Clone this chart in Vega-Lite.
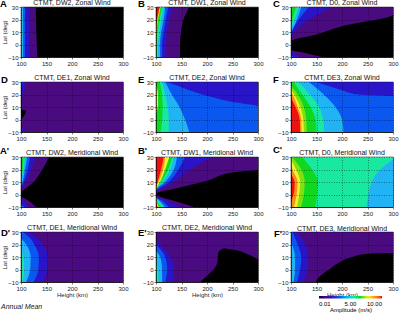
{"$schema":"https://vega.github.io/schema/vega-lite/v6.json","padding":{"left":-1,"top":-2,"right":0,"bottom":0},"autosize":{"type":"pad"},"background":"white","bounds":"flush","columns":3,"spacing":{"column":33,"row":25},
"config":{"font":"Liberation Sans","view":{"fill":"#000","stroke":"#000","strokeWidth":0.7},"title":{"fontSize":7,"fontWeight":"normal","color":"#111"},"axis":{"grid":true,"gridColor":"#000","gridDash":[1,1.5],"gridOpacity":0.7,"gridWidth":0.6,"labelFontSize":6,"labelColor":"#222","labelPadding":1,"tickSize":2,"tickWidth":0.5,"tickColor":"#000","domainColor":"#000","domainWidth":0.6,"titleFontSize":6,"titleFontWeight":"normal","titleColor":"#222","titlePadding":0,"labelOverlap":false,"labelFlush":false},"text":{"font":"Liberation Sans"},"area":{"opacity":1}},
"data":{"values":[
{"panel":"A","band":1,"amp":1,"lat":-10,"h0":100,"h1":132},{"panel":"A","band":1,"amp":1,"lat":10,"h0":100,"h1":130},{"panel":"A","band":1,"amp":1,"lat":30,"h0":100,"h1":129},
{"panel":"A","band":2,"amp":2.2,"lat":-10,"h0":100,"h1":117},{"panel":"A","band":2,"amp":2.2,"lat":30,"h0":100,"h1":115},
{"panel":"A","band":3,"amp":3.3,"lat":-10,"h0":100,"h1":108},{"panel":"A","band":3,"amp":3.3,"lat":30,"h0":100,"h1":108},
{"panel":"A","band":4,"amp":4.4,"lat":-10,"h0":100,"h1":104},{"panel":"A","band":4,"amp":4.4,"lat":30,"h0":100,"h1":104},
{"panel":"A","band":5,"amp":5.5,"lat":-10,"h0":100,"h1":102},{"panel":"A","band":5,"amp":5.5,"lat":30,"h0":100,"h1":102},

{"panel":"B","band":1,"amp":1,"lat":-10,"h0":100,"h1":147},{"panel":"B","band":1,"amp":1,"lat":0,"h0":100,"h1":147},{"panel":"B","band":1,"amp":1,"lat":10,"h0":100,"h1":149},{"panel":"B","band":1,"amp":1,"lat":20,"h0":100,"h1":154},{"panel":"B","band":1,"amp":1,"lat":30,"h0":100,"h1":165},
{"panel":"B","band":2,"amp":2.2,"lat":-10,"h0":100,"h1":120},{"panel":"B","band":2,"amp":2.2,"lat":0,"h0":100,"h1":120},{"panel":"B","band":2,"amp":2.2,"lat":10,"h0":100,"h1":122},{"panel":"B","band":2,"amp":2.2,"lat":20,"h0":100,"h1":126},{"panel":"B","band":2,"amp":2.2,"lat":30,"h0":100,"h1":133},
{"panel":"B","band":3,"amp":3.3,"lat":-10,"h0":100,"h1":112},{"panel":"B","band":3,"amp":3.3,"lat":0,"h0":100,"h1":112},{"panel":"B","band":3,"amp":3.3,"lat":10,"h0":100,"h1":115},{"panel":"B","band":3,"amp":3.3,"lat":30,"h0":100,"h1":124},
{"panel":"B","band":4,"amp":4.4,"lat":-10,"h0":100,"h1":108},{"panel":"B","band":4,"amp":4.4,"lat":0,"h0":100,"h1":108},{"panel":"B","band":4,"amp":4.4,"lat":10,"h0":100,"h1":110},{"panel":"B","band":4,"amp":4.4,"lat":20,"h0":100,"h1":115},{"panel":"B","band":4,"amp":4.4,"lat":30,"h0":100,"h1":118},
{"panel":"B","band":5,"amp":5.5,"lat":-10,"h0":100,"h1":104},{"panel":"B","band":5,"amp":5.5,"lat":0,"h0":100,"h1":104},{"panel":"B","band":5,"amp":5.5,"lat":10,"h0":100,"h1":107},{"panel":"B","band":5,"amp":5.5,"lat":20,"h0":100,"h1":110},{"panel":"B","band":5,"amp":5.5,"lat":30,"h0":100,"h1":115},
{"panel":"B","band":6,"amp":6.6,"lat":-10,"h0":100,"h1":101},{"panel":"B","band":6,"amp":6.6,"lat":0,"h0":100,"h1":101},{"panel":"B","band":6,"amp":6.6,"lat":10,"h0":100,"h1":103},{"panel":"B","band":6,"amp":6.6,"lat":20,"h0":100,"h1":107},{"panel":"B","band":6,"amp":6.6,"lat":30,"h0":100,"h1":112},
{"panel":"B","band":7,"amp":7.8,"lat":0,"h0":100,"h1":100},{"panel":"B","band":7,"amp":7.8,"lat":10,"h0":100,"h1":101},{"panel":"B","band":7,"amp":7.8,"lat":20,"h0":100,"h1":104},{"panel":"B","band":7,"amp":7.8,"lat":30,"h0":100,"h1":109},
{"panel":"B","band":8,"amp":8.9,"lat":10,"h0":100,"h1":100},{"panel":"B","band":8,"amp":8.9,"lat":20,"h0":100,"h1":103},{"panel":"B","band":8,"amp":8.9,"lat":30,"h0":100,"h1":108},
{"panel":"B","band":9,"amp":10,"lat":15,"h0":100,"h1":100},{"panel":"B","band":9,"amp":10,"lat":20,"h0":100,"h1":102},{"panel":"B","band":9,"amp":10,"lat":30,"h0":100,"h1":107},

{"panel":"C","band":1,"amp":1,"lat":-10,"h0":100,"h1":162},{"panel":"C","band":1,"amp":1,"lat":-7,"h0":100,"h1":130},{"panel":"C","band":1,"amp":1,"lat":-4,"h0":100,"h1":100},{"panel":"C","band":1,"amp":1,"lat":2.5,"h0":100,"h1":100},{"panel":"C","band":1,"amp":1,"lat":8,"h0":100,"h1":150},{"panel":"C","band":1,"amp":1,"lat":14.5,"h0":100,"h1":198},{"panel":"C","band":1,"amp":1,"lat":24,"h0":100,"h1":300},{"panel":"C","band":1,"amp":1,"lat":30,"h0":100,"h1":300},
{"panel":"C","band":2,"amp":2.2,"lat":-10,"h0":100,"h1":118},{"panel":"C","band":2,"amp":2.2,"lat":-7,"h0":100,"h1":105},{"panel":"C","band":2,"amp":2.2,"lat":-5,"h0":100,"h1":100},{"panel":"C","band":2,"amp":2.2,"lat":3,"h0":100,"h1":100},{"panel":"C","band":2,"amp":2.2,"lat":30,"h0":100,"h1":178},
{"panel":"C","band":3,"amp":3.3,"lat":-10,"h0":100,"h1":105},{"panel":"C","band":3,"amp":3.3,"lat":-8,"h0":100,"h1":100},{"panel":"C","band":3,"amp":3.3,"lat":5,"h0":100,"h1":100},{"panel":"C","band":3,"amp":3.3,"lat":30,"h0":100,"h1":135},
{"panel":"C","band":4,"amp":4.4,"lat":10,"h0":100,"h1":100},{"panel":"C","band":4,"amp":4.4,"lat":20,"h0":100,"h1":112},{"panel":"C","band":4,"amp":4.4,"lat":30,"h0":100,"h1":120},
{"panel":"C","band":5,"amp":5.5,"lat":12,"h0":100,"h1":100},{"panel":"C","band":5,"amp":5.5,"lat":20,"h0":100,"h1":107},{"panel":"C","band":5,"amp":5.5,"lat":30,"h0":100,"h1":115},
{"panel":"C","band":6,"amp":6.6,"lat":15,"h0":100,"h1":100},{"panel":"C","band":6,"amp":6.6,"lat":20,"h0":100,"h1":103},{"panel":"C","band":6,"amp":6.6,"lat":30,"h0":100,"h1":110},

{"panel":"D","band":1,"amp":1,"lat":-10,"h0":100,"h1":300},{"panel":"D","band":1,"amp":1,"lat":-2,"h0":100,"h1":300},{"panel":"D","band":1,"amp":1,"lat":7,"h0":110,"h1":300},{"panel":"D","band":1,"amp":1,"lat":8,"h0":100,"h1":300},{"panel":"D","band":1,"amp":1,"lat":30,"h0":100,"h1":300},
{"panel":"D","band":2,"amp":2.2,"lat":-10,"h0":100,"h1":112},{"panel":"D","band":2,"amp":2.2,"lat":-7,"h0":100,"h1":103},{"panel":"D","band":2,"amp":2.2,"lat":-6,"h0":100,"h1":100},{"panel":"D","band":2,"amp":2.2,"lat":14,"h0":100,"h1":100},{"panel":"D","band":2,"amp":2.2,"lat":20,"h0":100,"h1":104},{"panel":"D","band":2,"amp":2.2,"lat":25,"h0":100,"h1":107},{"panel":"D","band":2,"amp":2.2,"lat":30,"h0":100,"h1":110},
{"panel":"D","band":3,"amp":3.3,"lat":26,"h0":100,"h1":100},{"panel":"D","band":3,"amp":3.3,"lat":30,"h0":100,"h1":103},

{"panel":"E","band":1,"amp":2.2,"lat":-10,"h0":100,"h1":300},{"panel":"E","band":1,"amp":2.2,"lat":30,"h0":100,"h1":300},
{"panel":"E","band":2,"amp":3.3,"lat":-10,"h0":100,"h1":300},{"panel":"E","band":2,"amp":3.3,"lat":10.5,"h0":100,"h1":300},{"panel":"E","band":2,"amp":3.3,"lat":14,"h0":100,"h1":250},{"panel":"E","band":2,"amp":3.3,"lat":19,"h0":100,"h1":200},{"panel":"E","band":2,"amp":3.3,"lat":25,"h0":100,"h1":155},{"panel":"E","band":2,"amp":3.3,"lat":30,"h0":100,"h1":122},
{"panel":"E","band":3,"amp":4.4,"lat":-10,"h0":100,"h1":165},{"panel":"E","band":3,"amp":4.4,"lat":0,"h0":100,"h1":157},{"panel":"E","band":3,"amp":4.4,"lat":10,"h0":100,"h1":146},{"panel":"E","band":3,"amp":4.4,"lat":20,"h0":100,"h1":131},{"panel":"E","band":3,"amp":4.4,"lat":30,"h0":100,"h1":118},
{"panel":"E","band":4,"amp":5.5,"lat":-10,"h0":100,"h1":125},{"panel":"E","band":4,"amp":5.5,"lat":0,"h0":100,"h1":125},{"panel":"E","band":4,"amp":5.5,"lat":10,"h0":100,"h1":123},{"panel":"E","band":4,"amp":5.5,"lat":20,"h0":100,"h1":118},{"panel":"E","band":4,"amp":5.5,"lat":30,"h0":100,"h1":112},
{"panel":"E","band":5,"amp":6.6,"lat":-10,"h0":100,"h1":109},{"panel":"E","band":5,"amp":6.6,"lat":0,"h0":100,"h1":112},{"panel":"E","band":5,"amp":6.6,"lat":10,"h0":100,"h1":113},{"panel":"E","band":5,"amp":6.6,"lat":20,"h0":100,"h1":112},{"panel":"E","band":5,"amp":6.6,"lat":30,"h0":100,"h1":107},
{"panel":"E","band":6,"amp":7.8,"lat":5,"h0":100,"h1":100},{"panel":"E","band":6,"amp":7.8,"lat":12,"h0":100,"h1":104},{"panel":"E","band":6,"amp":7.8,"lat":20,"h0":100,"h1":104},{"panel":"E","band":6,"amp":7.8,"lat":28,"h0":100,"h1":100},

{"panel":"F","band":1,"amp":2.2,"lat":-10,"h0":100,"h1":300},{"panel":"F","band":1,"amp":2.2,"lat":30,"h0":100,"h1":300},
{"panel":"F","band":2,"amp":3.3,"lat":-10,"h0":100,"h1":300},{"panel":"F","band":2,"amp":3.3,"lat":18.5,"h0":100,"h1":300},{"panel":"F","band":2,"amp":3.3,"lat":20,"h0":100,"h1":232},{"panel":"F","band":2,"amp":3.3,"lat":23.5,"h0":100,"h1":200},{"panel":"F","band":2,"amp":3.3,"lat":27,"h0":100,"h1":172},{"panel":"F","band":2,"amp":3.3,"lat":30,"h0":100,"h1":150},
{"panel":"F","band":3,"amp":4.4,"lat":-10,"h0":100,"h1":203},{"panel":"F","band":3,"amp":4.4,"lat":0,"h0":100,"h1":200},{"panel":"F","band":3,"amp":4.4,"lat":10,"h0":100,"h1":187},{"panel":"F","band":3,"amp":4.4,"lat":20,"h0":100,"h1":164},{"panel":"F","band":3,"amp":4.4,"lat":30,"h0":100,"h1":135},
{"panel":"F","band":4,"amp":5.5,"lat":-10,"h0":100,"h1":165},{"panel":"F","band":4,"amp":5.5,"lat":0,"h0":100,"h1":163},{"panel":"F","band":4,"amp":5.5,"lat":10,"h0":100,"h1":155},{"panel":"F","band":4,"amp":5.5,"lat":20,"h0":100,"h1":137},{"panel":"F","band":4,"amp":5.5,"lat":30,"h0":100,"h1":115},
{"panel":"F","band":5,"amp":6.6,"lat":-10,"h0":100,"h1":150},{"panel":"F","band":5,"amp":6.6,"lat":0,"h0":100,"h1":148},{"panel":"F","band":5,"amp":6.6,"lat":10,"h0":100,"h1":138},{"panel":"F","band":5,"amp":6.6,"lat":20,"h0":100,"h1":122},{"panel":"F","band":5,"amp":6.6,"lat":30,"h0":100,"h1":105},
{"panel":"F","band":6,"amp":7.1,"lat":-10,"h0":100,"h1":131},{"panel":"F","band":6,"amp":7.1,"lat":0,"h0":100,"h1":130},{"panel":"F","band":6,"amp":7.1,"lat":10,"h0":100,"h1":125},{"panel":"F","band":6,"amp":7.1,"lat":20,"h0":100,"h1":113},{"panel":"F","band":6,"amp":7.1,"lat":27,"h0":100,"h1":100},
{"panel":"F","band":7,"amp":7.8,"lat":-10,"h0":100,"h1":125},{"panel":"F","band":7,"amp":7.8,"lat":0,"h0":100,"h1":124},{"panel":"F","band":7,"amp":7.8,"lat":10,"h0":100,"h1":118},{"panel":"F","band":7,"amp":7.8,"lat":20,"h0":100,"h1":106},{"panel":"F","band":7,"amp":7.8,"lat":24,"h0":100,"h1":100},
{"panel":"F","band":8,"amp":8.9,"lat":-10,"h0":100,"h1":121},{"panel":"F","band":8,"amp":8.9,"lat":0,"h0":100,"h1":120},{"panel":"F","band":8,"amp":8.9,"lat":10,"h0":100,"h1":113},{"panel":"F","band":8,"amp":8.9,"lat":20,"h0":100,"h1":103},{"panel":"F","band":8,"amp":8.9,"lat":22,"h0":100,"h1":100},
{"panel":"F","band":9,"amp":10,"lat":-10,"h0":100,"h1":118},{"panel":"F","band":9,"amp":10,"lat":0,"h0":100,"h1":117},{"panel":"F","band":9,"amp":10,"lat":10,"h0":100,"h1":109},{"panel":"F","band":9,"amp":10,"lat":15,"h0":100,"h1":103},{"panel":"F","band":9,"amp":10,"lat":18,"h0":100,"h1":100},

{"panel":"A2","band":1,"amp":1,"lat":-10,"h0":100,"h1":129},{"panel":"A2","band":1,"amp":1,"lat":-5,"h0":100,"h1":115},{"panel":"A2","band":1,"amp":1,"lat":-1,"h0":100,"h1":100},{"panel":"A2","band":1,"amp":1,"lat":0.5,"h0":100,"h1":100},{"panel":"A2","band":1,"amp":1,"lat":10,"h0":100,"h1":125},{"panel":"A2","band":1,"amp":1,"lat":20,"h0":100,"h1":142},{"panel":"A2","band":1,"amp":1,"lat":30,"h0":100,"h1":155},
{"panel":"A2","band":2,"amp":2.2,"lat":-10,"h0":100,"h1":113},{"panel":"A2","band":2,"amp":2.2,"lat":-5,"h0":100,"h1":106},{"panel":"A2","band":2,"amp":2.2,"lat":-2,"h0":100,"h1":100},{"panel":"A2","band":2,"amp":2.2,"lat":3,"h0":100,"h1":100},{"panel":"A2","band":2,"amp":2.2,"lat":10,"h0":100,"h1":110},{"panel":"A2","band":2,"amp":2.2,"lat":20,"h0":100,"h1":120},{"panel":"A2","band":2,"amp":2.2,"lat":30,"h0":100,"h1":128},
{"panel":"A2","band":3,"amp":3.3,"lat":-10,"h0":100,"h1":106},{"panel":"A2","band":3,"amp":3.3,"lat":-6,"h0":100,"h1":100},{"panel":"A2","band":3,"amp":3.3,"lat":5,"h0":100,"h1":100},{"panel":"A2","band":3,"amp":3.3,"lat":10,"h0":100,"h1":105},{"panel":"A2","band":3,"amp":3.3,"lat":20,"h0":100,"h1":113},{"panel":"A2","band":3,"amp":3.3,"lat":30,"h0":100,"h1":118},
{"panel":"A2","band":4,"amp":4.4,"lat":-10,"h0":100,"h1":103},{"panel":"A2","band":4,"amp":4.4,"lat":-8,"h0":100,"h1":100},{"panel":"A2","band":4,"amp":4.4,"lat":6,"h0":100,"h1":100},{"panel":"A2","band":4,"amp":4.4,"lat":10,"h0":100,"h1":103},{"panel":"A2","band":4,"amp":4.4,"lat":20,"h0":100,"h1":108},{"panel":"A2","band":4,"amp":4.4,"lat":30,"h0":100,"h1":112},
{"panel":"A2","band":5,"amp":5.5,"lat":-10,"h0":100,"h1":101},{"panel":"A2","band":5,"amp":5.5,"lat":-9,"h0":100,"h1":100},{"panel":"A2","band":5,"amp":5.5,"lat":10,"h0":100,"h1":100},{"panel":"A2","band":5,"amp":5.5,"lat":20,"h0":100,"h1":105},{"panel":"A2","band":5,"amp":5.5,"lat":30,"h0":100,"h1":108},
{"panel":"A2","band":6,"amp":6.6,"lat":10,"h0":100,"h1":100},{"panel":"A2","band":6,"amp":6.6,"lat":20,"h0":100,"h1":103},{"panel":"A2","band":6,"amp":6.6,"lat":30,"h0":100,"h1":105},

{"panel":"B2","band":1,"amp":1,"lat":-10,"h0":100,"h1":175},{"panel":"B2","band":1,"amp":1,"lat":-5,"h0":100,"h1":135},{"panel":"B2","band":1,"amp":1,"lat":0,"h0":100,"h1":100},{"panel":"B2","band":1,"amp":1,"lat":0.5,"h0":100,"h1":100},{"panel":"B2","band":1,"amp":1,"lat":5,"h0":100,"h1":140},{"panel":"B2","band":1,"amp":1,"lat":11,"h0":100,"h1":200},{"panel":"B2","band":1,"amp":1,"lat":17.7,"h0":100,"h1":250},{"panel":"B2","band":1,"amp":1,"lat":20,"h0":100,"h1":300},{"panel":"B2","band":1,"amp":1,"lat":30,"h0":100,"h1":300},
{"panel":"B2","band":2,"amp":2.2,"lat":-10,"h0":100,"h1":145},{"panel":"B2","band":2,"amp":2.2,"lat":-5,"h0":100,"h1":122},{"panel":"B2","band":2,"amp":2.2,"lat":-1,"h0":100,"h1":100},{"panel":"B2","band":2,"amp":2.2,"lat":1,"h0":100,"h1":100},{"panel":"B2","band":2,"amp":2.2,"lat":10,"h0":100,"h1":135},{"panel":"B2","band":2,"amp":2.2,"lat":20,"h0":100,"h1":167},{"panel":"B2","band":2,"amp":2.2,"lat":30,"h0":100,"h1":210},
{"panel":"B2","band":3,"amp":3.3,"lat":-10,"h0":100,"h1":125},{"panel":"B2","band":3,"amp":3.3,"lat":-5,"h0":100,"h1":112},{"panel":"B2","band":3,"amp":3.3,"lat":-1.5,"h0":100,"h1":100},{"panel":"B2","band":3,"amp":3.3,"lat":2,"h0":100,"h1":100},{"panel":"B2","band":3,"amp":3.3,"lat":10,"h0":100,"h1":125},{"panel":"B2","band":3,"amp":3.3,"lat":20,"h0":100,"h1":144},{"panel":"B2","band":3,"amp":3.3,"lat":30,"h0":100,"h1":157},
{"panel":"B2","band":4,"amp":4.4,"lat":-10,"h0":100,"h1":118},{"panel":"B2","band":4,"amp":4.4,"lat":-5,"h0":100,"h1":107},{"panel":"B2","band":4,"amp":4.4,"lat":-2,"h0":100,"h1":100},{"panel":"B2","band":4,"amp":4.4,"lat":3,"h0":100,"h1":100},{"panel":"B2","band":4,"amp":4.4,"lat":10,"h0":100,"h1":118},{"panel":"B2","band":4,"amp":4.4,"lat":20,"h0":100,"h1":135},{"panel":"B2","band":4,"amp":4.4,"lat":30,"h0":100,"h1":141},
{"panel":"B2","band":5,"amp":5.5,"lat":-10,"h0":100,"h1":113},{"panel":"B2","band":5,"amp":5.5,"lat":-5,"h0":100,"h1":105},{"panel":"B2","band":5,"amp":5.5,"lat":-2.5,"h0":100,"h1":100},{"panel":"B2","band":5,"amp":5.5,"lat":3.5,"h0":100,"h1":100},{"panel":"B2","band":5,"amp":5.5,"lat":10,"h0":100,"h1":113},{"panel":"B2","band":5,"amp":5.5,"lat":20,"h0":100,"h1":128},{"panel":"B2","band":5,"amp":5.5,"lat":30,"h0":100,"h1":135},
{"panel":"B2","band":6,"amp":6.6,"lat":-10,"h0":100,"h1":110},{"panel":"B2","band":6,"amp":6.6,"lat":-3,"h0":100,"h1":100},{"panel":"B2","band":6,"amp":6.6,"lat":4,"h0":100,"h1":100},{"panel":"B2","band":6,"amp":6.6,"lat":10,"h0":100,"h1":110},{"panel":"B2","band":6,"amp":6.6,"lat":20,"h0":100,"h1":124},{"panel":"B2","band":6,"amp":6.6,"lat":30,"h0":100,"h1":132},
{"panel":"B2","band":7,"amp":7.8,"lat":-10,"h0":100,"h1":106},{"panel":"B2","band":7,"amp":7.8,"lat":-4,"h0":100,"h1":100},{"panel":"B2","band":7,"amp":7.8,"lat":4,"h0":100,"h1":100},{"panel":"B2","band":7,"amp":7.8,"lat":10,"h0":100,"h1":108},{"panel":"B2","band":7,"amp":7.8,"lat":20,"h0":100,"h1":118},{"panel":"B2","band":7,"amp":7.8,"lat":30,"h0":100,"h1":126},
{"panel":"B2","band":8,"amp":8.9,"lat":-10,"h0":100,"h1":104},{"panel":"B2","band":8,"amp":8.9,"lat":-5,"h0":100,"h1":100},{"panel":"B2","band":8,"amp":8.9,"lat":5,"h0":100,"h1":100},{"panel":"B2","band":8,"amp":8.9,"lat":10,"h0":100,"h1":105},{"panel":"B2","band":8,"amp":8.9,"lat":20,"h0":100,"h1":114},{"panel":"B2","band":8,"amp":8.9,"lat":30,"h0":100,"h1":118},
{"panel":"B2","band":9,"amp":10,"lat":-10,"h0":100,"h1":103},{"panel":"B2","band":9,"amp":10,"lat":-6,"h0":100,"h1":100},{"panel":"B2","band":9,"amp":10,"lat":6,"h0":100,"h1":100},{"panel":"B2","band":9,"amp":10,"lat":10,"h0":100,"h1":103},{"panel":"B2","band":9,"amp":10,"lat":20,"h0":100,"h1":110},{"panel":"B2","band":9,"amp":10,"lat":30,"h0":100,"h1":115},

{"panel":"C2","band":1,"amp":5.5,"lat":-10,"h0":100,"h1":300},{"panel":"C2","band":1,"amp":5.5,"lat":30,"h0":100,"h1":300},
{"panel":"C2","band":2,"amp":4.4,"lat":-10,"h0":248,"h1":300},{"panel":"C2","band":2,"amp":4.4,"lat":0,"h0":252,"h1":300},{"panel":"C2","band":2,"amp":4.4,"lat":10,"h0":258,"h1":300},{"panel":"C2","band":2,"amp":4.4,"lat":20,"h0":275,"h1":300},{"panel":"C2","band":2,"amp":4.4,"lat":28,"h0":300,"h1":300},
{"panel":"C2","band":3,"amp":6.6,"lat":-10,"h0":100,"h1":148},{"panel":"C2","band":3,"amp":6.6,"lat":0,"h0":100,"h1":151},{"panel":"C2","band":3,"amp":6.6,"lat":10,"h0":100,"h1":153},{"panel":"C2","band":3,"amp":6.6,"lat":20,"h0":100,"h1":141},{"panel":"C2","band":3,"amp":6.6,"lat":30,"h0":100,"h1":122},
{"panel":"C2","band":4,"amp":7.1,"lat":-10,"h0":100,"h1":120},{"panel":"C2","band":4,"amp":7.1,"lat":0,"h0":100,"h1":125},{"panel":"C2","band":4,"amp":7.1,"lat":10,"h0":100,"h1":127},{"panel":"C2","band":4,"amp":7.1,"lat":20,"h0":100,"h1":120},{"panel":"C2","band":4,"amp":7.1,"lat":30,"h0":100,"h1":102},
{"panel":"C2","band":5,"amp":7.8,"lat":-10,"h0":100,"h1":112},{"panel":"C2","band":5,"amp":7.8,"lat":0,"h0":100,"h1":116},{"panel":"C2","band":5,"amp":7.8,"lat":10,"h0":100,"h1":118},{"panel":"C2","band":5,"amp":7.8,"lat":20,"h0":100,"h1":110},{"panel":"C2","band":5,"amp":7.8,"lat":28,"h0":100,"h1":100},
{"panel":"C2","band":6,"amp":8.9,"lat":-10,"h0":100,"h1":106},{"panel":"C2","band":6,"amp":8.9,"lat":0,"h0":100,"h1":111},{"panel":"C2","band":6,"amp":8.9,"lat":10,"h0":100,"h1":113},{"panel":"C2","band":6,"amp":8.9,"lat":18,"h0":100,"h1":105},{"panel":"C2","band":6,"amp":8.9,"lat":23,"h0":100,"h1":100},
{"panel":"C2","band":7,"amp":10,"lat":-7,"h0":100,"h1":100},{"panel":"C2","band":7,"amp":10,"lat":-5,"h0":100,"h1":101},{"panel":"C2","band":7,"amp":10,"lat":0,"h0":100,"h1":105},{"panel":"C2","band":7,"amp":10,"lat":5,"h0":100,"h1":107},{"panel":"C2","band":7,"amp":10,"lat":10,"h0":100,"h1":107},{"panel":"C2","band":7,"amp":10,"lat":15,"h0":100,"h1":102},{"panel":"C2","band":7,"amp":10,"lat":18,"h0":100,"h1":100},

{"panel":"D2","band":1,"amp":1,"lat":-10,"h0":100,"h1":300},{"panel":"D2","band":1,"amp":1,"lat":30,"h0":100,"h1":300},
{"panel":"D2","band":2,"amp":2.2,"lat":-10,"h0":100,"h1":143},{"panel":"D2","band":2,"amp":2.2,"lat":0,"h0":100,"h1":152},{"panel":"D2","band":2,"amp":2.2,"lat":10,"h0":100,"h1":153},{"panel":"D2","band":2,"amp":2.2,"lat":20,"h0":100,"h1":142},{"panel":"D2","band":2,"amp":2.2,"lat":25,"h0":100,"h1":132},{"panel":"D2","band":2,"amp":2.2,"lat":30,"h0":100,"h1":115},
{"panel":"D2","band":3,"amp":3.3,"lat":-10,"h0":100,"h1":125},{"panel":"D2","band":3,"amp":3.3,"lat":0,"h0":100,"h1":134},{"panel":"D2","band":3,"amp":3.3,"lat":10,"h0":100,"h1":135},{"panel":"D2","band":3,"amp":3.3,"lat":20,"h0":100,"h1":126},{"panel":"D2","band":3,"amp":3.3,"lat":25,"h0":100,"h1":118},{"panel":"D2","band":3,"amp":3.3,"lat":30,"h0":100,"h1":103},
{"panel":"D2","band":4,"amp":4.4,"lat":-10,"h0":100,"h1":110},{"panel":"D2","band":4,"amp":4.4,"lat":0,"h0":100,"h1":118},{"panel":"D2","band":4,"amp":4.4,"lat":10,"h0":100,"h1":119},{"panel":"D2","band":4,"amp":4.4,"lat":20,"h0":100,"h1":110},{"panel":"D2","band":4,"amp":4.4,"lat":25,"h0":100,"h1":100},
{"panel":"D2","band":5,"amp":5.5,"lat":-10,"h0":100,"h1":103},{"panel":"D2","band":5,"amp":5.5,"lat":0,"h0":100,"h1":106},{"panel":"D2","band":5,"amp":5.5,"lat":10,"h0":100,"h1":105},{"panel":"D2","band":5,"amp":5.5,"lat":15,"h0":100,"h1":100},
{"panel":"D2","band":6,"amp":6.6,"lat":-10,"h0":100,"h1":100},{"panel":"D2","band":6,"amp":6.6,"lat":0,"h0":100,"h1":101},{"panel":"D2","band":6,"amp":6.6,"lat":10,"h0":100,"h1":101},{"panel":"D2","band":6,"amp":6.6,"lat":14,"h0":100,"h1":100},

{"panel":"E2","band":1,"amp":1,"lat":-10,"h0":100,"h1":187},{"panel":"E2","band":1,"amp":1,"lat":-5,"h0":100,"h1":200},{"panel":"E2","band":1,"amp":1,"lat":0,"h0":100,"h1":213},{"panel":"E2","band":1,"amp":1,"lat":5,"h0":100,"h1":220},{"panel":"E2","band":1,"amp":1,"lat":8,"h0":100,"h1":221},{"panel":"E2","band":1,"amp":1,"lat":13,"h0":100,"h1":222},{"panel":"E2","band":1,"amp":1,"lat":15,"h0":100,"h1":225},{"panel":"E2","band":1,"amp":1,"lat":17,"h0":100,"h1":236},{"panel":"E2","band":1,"amp":1,"lat":17.2,"h0":100,"h1":300},{"panel":"E2","band":1,"amp":1,"lat":30,"h0":100,"h1":300},
{"panel":"E2","band":8,"amp":1,"lat":8,"h0":300,"h1":300},{"panel":"E2","band":8,"amp":1,"lat":13,"h0":275,"h1":300},{"panel":"E2","band":8,"amp":1,"lat":15,"h0":262,"h1":300},{"panel":"E2","band":8,"amp":1,"lat":17,"h0":236,"h1":300},{"panel":"E2","band":8,"amp":1,"lat":17.2,"h0":236,"h1":300},
{"panel":"E2","band":2,"amp":2.2,"lat":-10,"h0":100,"h1":133},{"panel":"E2","band":2,"amp":2.2,"lat":0,"h0":100,"h1":135},{"panel":"E2","band":2,"amp":2.2,"lat":10,"h0":100,"h1":128},{"panel":"E2","band":2,"amp":2.2,"lat":20,"h0":100,"h1":108},{"panel":"E2","band":2,"amp":2.2,"lat":25,"h0":100,"h1":100},
{"panel":"E2","band":3,"amp":3.3,"lat":-10,"h0":100,"h1":118},{"panel":"E2","band":3,"amp":3.3,"lat":0,"h0":100,"h1":122},{"panel":"E2","band":3,"amp":3.3,"lat":10,"h0":100,"h1":118},{"panel":"E2","band":3,"amp":3.3,"lat":20,"h0":100,"h1":100},
{"panel":"E2","band":4,"amp":4.4,"lat":-10,"h0":100,"h1":112},{"panel":"E2","band":4,"amp":4.4,"lat":0,"h0":100,"h1":112},{"panel":"E2","band":4,"amp":4.4,"lat":10,"h0":100,"h1":108},{"panel":"E2","band":4,"amp":4.4,"lat":15,"h0":100,"h1":100},
{"panel":"E2","band":5,"amp":5.5,"lat":-10,"h0":100,"h1":105},{"panel":"E2","band":5,"amp":5.5,"lat":0,"h0":100,"h1":104},{"panel":"E2","band":5,"amp":5.5,"lat":5,"h0":100,"h1":100},
{"panel":"E2","band":6,"amp":6.6,"lat":-10,"h0":100,"h1":102},{"panel":"E2","band":6,"amp":6.6,"lat":-5,"h0":100,"h1":100},

{"panel":"F2","band":1,"amp":1,"lat":-10,"h0":100,"h1":148},{"panel":"F2","band":1,"amp":1,"lat":-5,"h0":100,"h1":158},{"panel":"F2","band":1,"amp":1,"lat":0,"h0":100,"h1":175},{"panel":"F2","band":1,"amp":1,"lat":5,"h0":100,"h1":192},{"panel":"F2","band":1,"amp":1,"lat":10,"h0":100,"h1":220},{"panel":"F2","band":1,"amp":1,"lat":12.4,"h0":100,"h1":245},{"panel":"F2","band":1,"amp":1,"lat":13,"h0":100,"h1":272},{"panel":"F2","band":1,"amp":1,"lat":13.3,"h0":100,"h1":300},{"panel":"F2","band":1,"amp":1,"lat":30,"h0":100,"h1":300},
{"panel":"F2","band":2,"amp":2.2,"lat":-10,"h0":100,"h1":125},{"panel":"F2","band":2,"amp":2.2,"lat":0,"h0":100,"h1":132},{"panel":"F2","band":2,"amp":2.2,"lat":10,"h0":100,"h1":134},{"panel":"F2","band":2,"amp":2.2,"lat":20,"h0":100,"h1":128},{"panel":"F2","band":2,"amp":2.2,"lat":30,"h0":100,"h1":113},
{"panel":"F2","band":3,"amp":3.3,"lat":-10,"h0":100,"h1":112},{"panel":"F2","band":3,"amp":3.3,"lat":0,"h0":100,"h1":118},{"panel":"F2","band":3,"amp":3.3,"lat":10,"h0":100,"h1":120},{"panel":"F2","band":3,"amp":3.3,"lat":20,"h0":100,"h1":113},{"panel":"F2","band":3,"amp":3.3,"lat":25,"h0":100,"h1":108},{"panel":"F2","band":3,"amp":3.3,"lat":30,"h0":100,"h1":103},
{"panel":"F2","band":4,"amp":4.4,"lat":-10,"h0":100,"h1":105},{"panel":"F2","band":4,"amp":4.4,"lat":0,"h0":100,"h1":108},{"panel":"F2","band":4,"amp":4.4,"lat":10,"h0":100,"h1":108},{"panel":"F2","band":4,"amp":4.4,"lat":15,"h0":100,"h1":106},{"panel":"F2","band":4,"amp":4.4,"lat":22,"h0":100,"h1":100}
]},
"concat":[
{"width":102,"height":50,"title":{"text":"CTMT, DW2, Zonal Wind","offset":-7.25},"layer":[{"transform":[{"filter":"datum.panel=='A'"}],"mark":{"type":"area","orient":"horizontal","interpolate":"monotone","clip":true},"encoding":{"x":{"field":"h1","type":"quantitative","scale":{"domain":[100,300],"nice":false},"axis":{"zindex":1,"values":[100,150,200,250,300],"title":null}},"x2":{"field":"h0"},"y":{"field":"lat","type":"quantitative","scale":{"domain":[-10,30],"nice":false},"axis":{"zindex":1,"values":[-10,0,10,20,30],"title":"Lat (deg)"}},"detail":{"field":"band"},"color":{"field":"amp","type":"quantitative","scale":{"domain":[0.01,1,2.2,3.3,4.4,5.5,6.6,7.1,7.8,8.9,10],"range":["#000000","#4a0a80","#2a14c8","#0a58f0","#20b4f4","#18e8a0","#10d820","#80e010","#f4f030","#f89018","#f01010"]},"legend":{"orient":"none","legendX":298,"legendY":289,"direction":"horizontal","gradientLength":63,"gradientThickness":2.5,"values":[0.01,5,10],"format":".2f","title":"Amplitude (m/s)","titleOrient":"bottom","titleFontSize":6,"titleFontWeight":"normal","titleAnchor":"middle","labelFontSize":6,"titlePadding":0,"labelOverlap":false}}}},{"data":{"values":[{"tag":"A"}]},"mark":{"type":"text","align":"left","baseline":"middle","fontSize":9.5,"fontWeight":"bold","dx":-21,"dy":-3},"encoding":{"x":{"datum":100,"axis":{"zindex":1,"values":[100,150,200,250,300],"title":null}},"y":{"datum":30,"axis":{"zindex":1,"values":[-10,0,10,20,30],"title":"Lat (deg)"}},"text":{"field":"tag"}}}]},
{"width":102,"height":50,"title":{"text":"CTMT, DW1, Zonal Wind","offset":-7.25},"layer":[{"transform":[{"filter":"datum.panel=='B'"}],"mark":{"type":"area","orient":"horizontal","interpolate":"monotone","clip":true},"encoding":{"x":{"field":"h1","type":"quantitative","scale":{"domain":[100,300],"nice":false},"axis":{"zindex":1,"values":[100,150,200,250,300],"title":null}},"x2":{"field":"h0"},"y":{"field":"lat","type":"quantitative","scale":{"domain":[-10,30],"nice":false},"axis":{"zindex":1,"values":[-10,0,10,20,30],"title":null}},"detail":{"field":"band"},"color":{"field":"amp","type":"quantitative"}}},{"data":{"values":[{"tag":"B"}]},"mark":{"type":"text","align":"left","baseline":"middle","fontSize":9.5,"fontWeight":"bold","dx":-18,"dy":-3},"encoding":{"x":{"datum":100,"axis":{"zindex":1,"values":[100,150,200,250,300],"title":null}},"y":{"datum":30,"axis":{"zindex":1,"values":[-10,0,10,20,30],"title":null}},"text":{"field":"tag"}}}]},
{"width":102,"height":50,"title":{"text":"CTMT, D0, Zonal Wind","offset":-7.25},"layer":[{"transform":[{"filter":"datum.panel=='C'"}],"mark":{"type":"area","orient":"horizontal","interpolate":"monotone","clip":true},"encoding":{"x":{"field":"h1","type":"quantitative","scale":{"domain":[100,300],"nice":false},"axis":{"zindex":1,"values":[100,150,200,250,300],"title":null}},"x2":{"field":"h0"},"y":{"field":"lat","type":"quantitative","scale":{"domain":[-10,30],"nice":false},"axis":{"zindex":1,"values":[-10,0,10,20,30],"title":null}},"detail":{"field":"band"},"color":{"field":"amp","type":"quantitative"}}},{"data":{"values":[{"tag":"C"}]},"mark":{"type":"text","align":"left","baseline":"middle","fontSize":9.5,"fontWeight":"bold","dx":-18,"dy":-3},"encoding":{"x":{"datum":100,"axis":{"zindex":1,"values":[100,150,200,250,300],"title":null}},"y":{"datum":30,"axis":{"zindex":1,"values":[-10,0,10,20,30],"title":null}},"text":{"field":"tag"}}}]},
{"width":102,"height":50,"title":{"text":"CTMT, DE1, Zonal Wind","offset":-6.25},"layer":[{"transform":[{"filter":"datum.panel=='D'"}],"mark":{"type":"area","orient":"horizontal","interpolate":"monotone","clip":true},"encoding":{"x":{"field":"h1","type":"quantitative","scale":{"domain":[100,300],"nice":false},"axis":{"zindex":1,"values":[100,150,200,250,300],"title":null}},"x2":{"field":"h0"},"y":{"field":"lat","type":"quantitative","scale":{"domain":[-10,30],"nice":false},"axis":{"zindex":1,"values":[-10,0,10,20,30],"title":"Lat (deg)"}},"detail":{"field":"band"},"color":{"field":"amp","type":"quantitative"}}},{"data":{"values":[{"tag":"D"}]},"mark":{"type":"text","align":"left","baseline":"middle","fontSize":9.5,"fontWeight":"bold","dx":-20,"dy":-2},"encoding":{"x":{"datum":100,"axis":{"zindex":1,"values":[100,150,200,250,300],"title":null}},"y":{"datum":30,"axis":{"zindex":1,"values":[-10,0,10,20,30],"title":"Lat (deg)"}},"text":{"field":"tag"}}}]},
{"width":102,"height":50,"title":{"text":"CTMT, DE2, Zonal Wind","offset":-6.25},"layer":[{"transform":[{"filter":"datum.panel=='E'"}],"mark":{"type":"area","orient":"horizontal","interpolate":"monotone","clip":true},"encoding":{"x":{"field":"h1","type":"quantitative","scale":{"domain":[100,300],"nice":false},"axis":{"zindex":1,"values":[100,150,200,250,300],"title":null}},"x2":{"field":"h0"},"y":{"field":"lat","type":"quantitative","scale":{"domain":[-10,30],"nice":false},"axis":{"zindex":1,"values":[-10,0,10,20,30],"title":null}},"detail":{"field":"band"},"color":{"field":"amp","type":"quantitative"}}},{"data":{"values":[{"tag":"E"}]},"mark":{"type":"text","align":"left","baseline":"middle","fontSize":9.5,"fontWeight":"bold","dx":-18,"dy":-2},"encoding":{"x":{"datum":100,"axis":{"zindex":1,"values":[100,150,200,250,300],"title":null}},"y":{"datum":30,"axis":{"zindex":1,"values":[-10,0,10,20,30],"title":null}},"text":{"field":"tag"}}}]},
{"width":102,"height":50,"title":{"text":"CTMT, DE3, Zonal Wind","offset":-6.25},"layer":[{"transform":[{"filter":"datum.panel=='F'"}],"mark":{"type":"area","orient":"horizontal","interpolate":"monotone","clip":true},"encoding":{"x":{"field":"h1","type":"quantitative","scale":{"domain":[100,300],"nice":false},"axis":{"zindex":1,"values":[100,150,200,250,300],"title":null}},"x2":{"field":"h0"},"y":{"field":"lat","type":"quantitative","scale":{"domain":[-10,30],"nice":false},"axis":{"zindex":1,"values":[-10,0,10,20,30],"title":null}},"detail":{"field":"band"},"color":{"field":"amp","type":"quantitative"}}},{"data":{"values":[{"tag":"F"}]},"mark":{"type":"text","align":"left","baseline":"middle","fontSize":9.5,"fontWeight":"bold","dx":-18,"dy":-2},"encoding":{"x":{"datum":100,"axis":{"zindex":1,"values":[100,150,200,250,300],"title":null}},"y":{"datum":30,"axis":{"zindex":1,"values":[-10,0,10,20,30],"title":null}},"text":{"field":"tag"}}}]},
{"width":102,"height":50,"title":{"text":"CTMT, DW2, Meridional Wind","offset":-10.25},"layer":[{"transform":[{"filter":"datum.panel=='A2'"}],"mark":{"type":"area","orient":"horizontal","interpolate":"monotone","clip":true},"encoding":{"x":{"field":"h1","type":"quantitative","scale":{"domain":[100,300],"nice":false},"axis":{"zindex":1,"values":[100,150,200,250,300],"title":null}},"x2":{"field":"h0"},"y":{"field":"lat","type":"quantitative","scale":{"domain":[-10,30],"nice":false},"axis":{"zindex":1,"values":[-10,0,10,20,30],"title":"Lat (deg)"}},"detail":{"field":"band"},"color":{"field":"amp","type":"quantitative"}}},{"data":{"values":[{"tag":"A'"}]},"mark":{"type":"text","align":"left","baseline":"middle","fontSize":9.5,"fontWeight":"bold","dx":-21,"dy":-6},"encoding":{"x":{"datum":100,"axis":{"zindex":1,"values":[100,150,200,250,300],"title":null}},"y":{"datum":30,"axis":{"zindex":1,"values":[-10,0,10,20,30],"title":"Lat (deg)"}},"text":{"field":"tag"}}}]},
{"width":102,"height":50,"title":{"text":"CTMT, DW1, Meridional Wind","offset":-10.25},"layer":[{"transform":[{"filter":"datum.panel=='B2'"}],"mark":{"type":"area","orient":"horizontal","interpolate":"monotone","clip":true},"encoding":{"x":{"field":"h1","type":"quantitative","scale":{"domain":[100,300],"nice":false},"axis":{"zindex":1,"values":[100,150,200,250,300],"title":null}},"x2":{"field":"h0"},"y":{"field":"lat","type":"quantitative","scale":{"domain":[-10,30],"nice":false},"axis":{"zindex":1,"values":[-10,0,10,20,30],"title":null}},"detail":{"field":"band"},"color":{"field":"amp","type":"quantitative"}}},{"data":{"values":[{"tag":"B'"}]},"mark":{"type":"text","align":"left","baseline":"middle","fontSize":9.5,"fontWeight":"bold","dx":-18,"dy":-6},"encoding":{"x":{"datum":100,"axis":{"zindex":1,"values":[100,150,200,250,300],"title":null}},"y":{"datum":30,"axis":{"zindex":1,"values":[-10,0,10,20,30],"title":null}},"text":{"field":"tag"}}}]},
{"width":102,"height":50,"title":{"text":"CTMT, D0, Meridional Wind","offset":-11.25},"layer":[{"transform":[{"filter":"datum.panel=='C2'"}],"mark":{"type":"area","orient":"horizontal","interpolate":"monotone","clip":true},"encoding":{"x":{"field":"h1","type":"quantitative","scale":{"domain":[100,300],"nice":false},"axis":{"zindex":1,"values":[100,150,200,250,300],"title":null}},"x2":{"field":"h0"},"y":{"field":"lat","type":"quantitative","scale":{"domain":[-10,30],"nice":false},"axis":{"zindex":1,"values":[-10,0,10,20,30],"title":null}},"detail":{"field":"band"},"color":{"field":"amp","type":"quantitative"}}},{"data":{"values":[{"tag":"C'"}]},"mark":{"type":"text","align":"left","baseline":"middle","fontSize":9.5,"fontWeight":"bold","dx":-18,"dy":-7},"encoding":{"x":{"datum":100,"axis":{"zindex":1,"values":[100,150,200,250,300],"title":null}},"y":{"datum":30,"axis":{"zindex":1,"values":[-10,0,10,20,30],"title":null}},"text":{"field":"tag"}}}]},
{"width":102,"height":50,"title":{"text":"CTMT, DE1, Meridional Wind","offset":-3.25},"layer":[{"transform":[{"filter":"datum.panel=='D2'"}],"mark":{"type":"area","orient":"horizontal","interpolate":"monotone","clip":true},"encoding":{"x":{"field":"h1","type":"quantitative","scale":{"domain":[100,300],"nice":false},"axis":{"zindex":1,"values":[100,150,200,250,300],"title":"Height (km)"}},"x2":{"field":"h0"},"y":{"field":"lat","type":"quantitative","scale":{"domain":[-10,30],"nice":false},"axis":{"zindex":1,"values":[-10,0,10,20,30],"title":"Lat (deg)"}},"detail":{"field":"band"},"color":{"field":"amp","type":"quantitative"}}},{"data":{"values":[{"tag":"D'"}]},"mark":{"type":"text","align":"left","baseline":"middle","fontSize":9.5,"fontWeight":"bold","dx":-20,"dy":1},"encoding":{"x":{"datum":100,"axis":{"zindex":1,"values":[100,150,200,250,300],"title":"Height (km)"}},"y":{"datum":30,"axis":{"zindex":1,"values":[-10,0,10,20,30],"title":"Lat (deg)"}},"text":{"field":"tag"}}},{"data":{"values":[{"tag":"Annual Mean"}]},"mark":{"type":"text","align":"left","baseline":"middle","fontSize":7,"fontStyle":"italic","dx":-20,"dy":25,"color":"#222"},"encoding":{"x":{"datum":100,"axis":{"zindex":1,"values":[100,150,200,250,300],"title":"Height (km)"}},"y":{"datum":-10,"axis":{"zindex":1,"values":[-10,0,10,20,30],"title":"Lat (deg)"}},"text":{"field":"tag"}}}]},
{"width":102,"height":50,"title":{"text":"CTMT, DE2, Meridional Wind","offset":-3.25},"layer":[{"transform":[{"filter":"datum.panel=='E2'"}],"mark":{"type":"area","orient":"horizontal","interpolate":"monotone","clip":true},"encoding":{"x":{"field":"h1","type":"quantitative","scale":{"domain":[100,300],"nice":false},"axis":{"zindex":1,"values":[100,150,200,250,300],"title":"Height (km)"}},"x2":{"field":"h0"},"y":{"field":"lat","type":"quantitative","scale":{"domain":[-10,30],"nice":false},"axis":{"zindex":1,"values":[-10,0,10,20,30],"title":null}},"detail":{"field":"band"},"color":{"field":"amp","type":"quantitative"}}},{"data":{"values":[{"tag":"E'"}]},"mark":{"type":"text","align":"left","baseline":"middle","fontSize":9.5,"fontWeight":"bold","dx":-18,"dy":1},"encoding":{"x":{"datum":100,"axis":{"zindex":1,"values":[100,150,200,250,300],"title":"Height (km)"}},"y":{"datum":30,"axis":{"zindex":1,"values":[-10,0,10,20,30],"title":null}},"text":{"field":"tag"}}}]},
{"width":102,"height":50,"title":{"text":"CTMT, DE3, Meridional Wind","offset":-2.5},"layer":[{"transform":[{"filter":"datum.panel=='F2'"}],"mark":{"type":"area","orient":"horizontal","interpolate":"monotone","clip":true},"encoding":{"x":{"field":"h1","type":"quantitative","scale":{"domain":[100,300],"nice":false},"axis":{"zindex":1,"values":[100,150,200,250,300],"title":"Height (km)"}},"x2":{"field":"h0"},"y":{"field":"lat","type":"quantitative","scale":{"domain":[-10,30],"nice":false},"axis":{"zindex":1,"values":[-10,0,10,20,30],"title":null}},"detail":{"field":"band"},"color":{"field":"amp","type":"quantitative"}}},{"data":{"values":[{"tag":"F'"}]},"mark":{"type":"text","align":"left","baseline":"middle","fontSize":9.5,"fontWeight":"bold","dx":-17,"dy":2},"encoding":{"x":{"datum":100,"axis":{"zindex":1,"values":[100,150,200,250,300],"title":"Height (km)"}},"y":{"datum":30,"axis":{"zindex":1,"values":[-10,0,10,20,30],"title":null}},"text":{"field":"tag"}}}]}
]}
